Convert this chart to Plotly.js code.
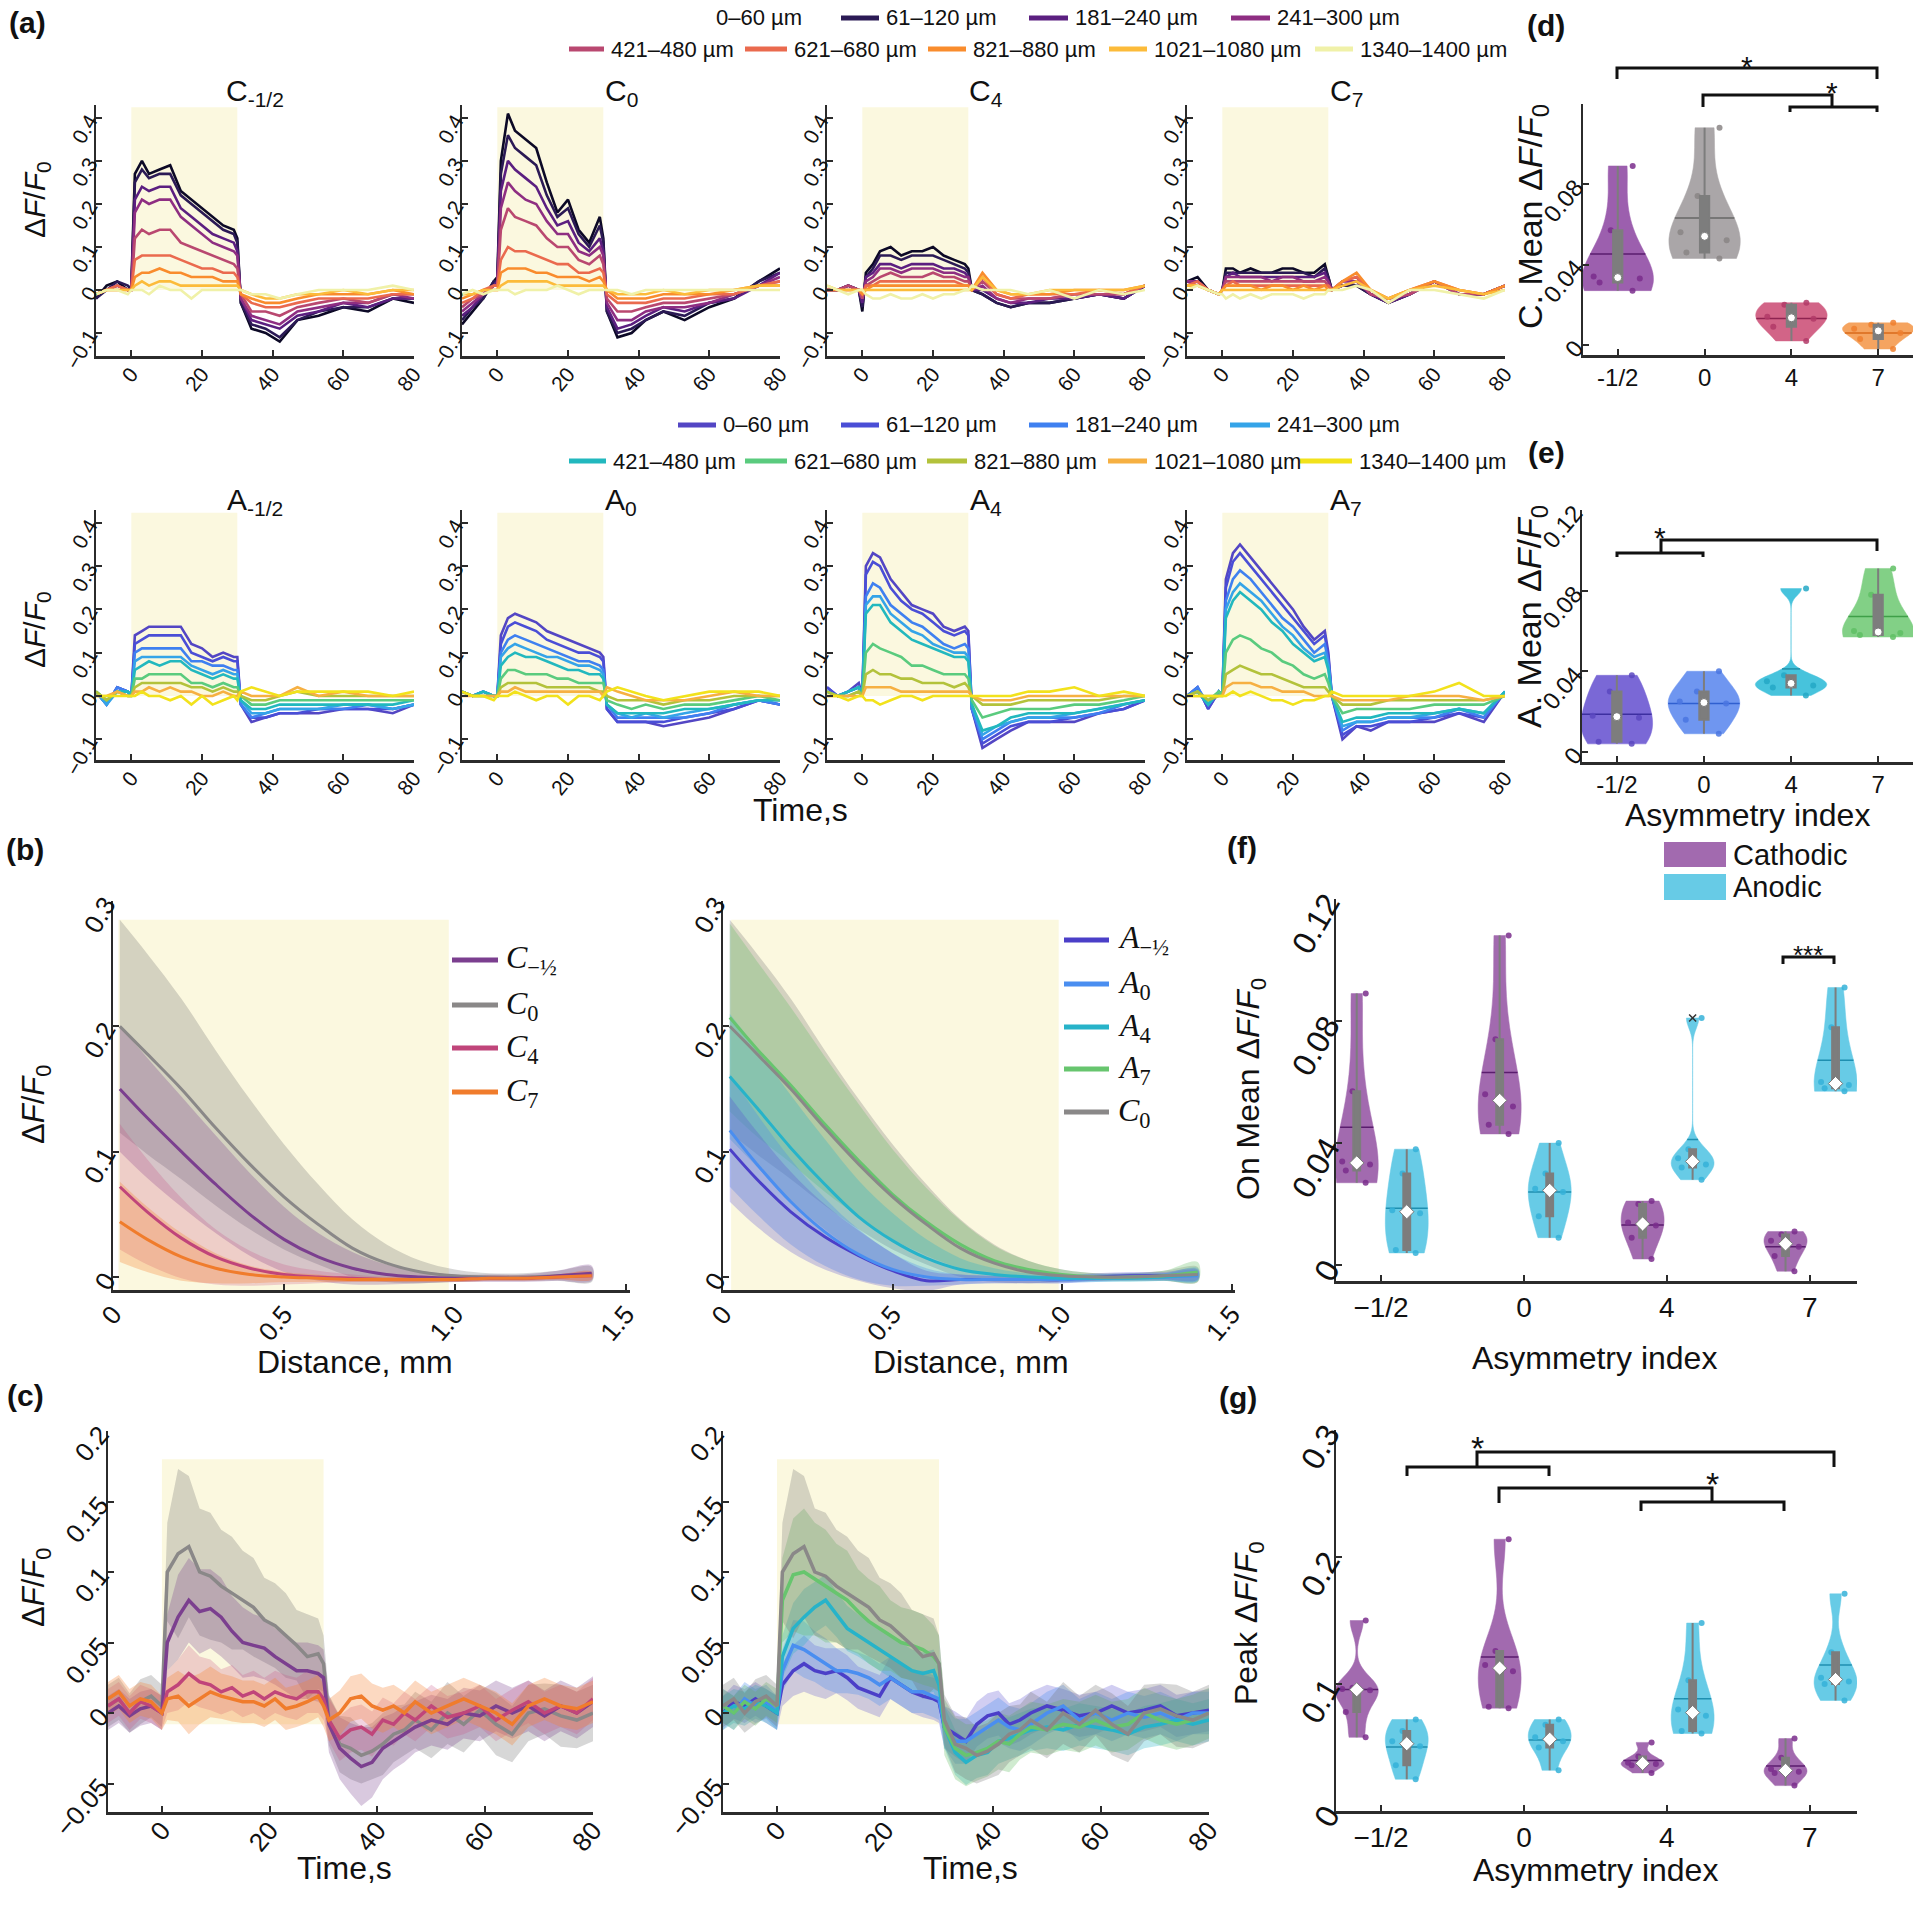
<!DOCTYPE html>
<html><head><meta charset="utf-8">
<script src="https://cdn.plot.ly/plotly-3.0.1.min.js"></script>
<style>html,body{margin:0;padding:0;background:#fff}#chart{width:1920px;height:1911px}</style>
</head><body><div id="chart"></div>
<script>
// ================= DATA =================
const distLabels = ['0–60 µm','61–120 µm','181–240 µm','241–300 µm','421–480 µm','621–680 µm','821–880 µm','1021–1080 µm','1340–1400 µm'];
const timeA = [-10,-7,-4,-1,0,1,3,5,8,11,14,17,20,23,26,29,30,31,34,38,42,47,53,60,67,74,80];

const cHalf = [
[-.02,.01,.02,.00,.01,.27,.30,.27,.28,.29,.23,.21,.19,.17,.15,.14,.12,-.03,-.09,-.10,-.12,-.07,-.06,-.04,-.05,-.02,-.03],
[-.02,.00,.02,.01,.00,.25,.28,.26,.27,.27,.22,.20,.18,.16,.14,.13,.11,-.03,-.08,-.09,-.11,-.07,-.05,-.04,-.04,-.02,-.02],
[-.01,.00,.01,.00,.00,.21,.24,.23,.24,.24,.19,.17,.15,.13,.12,.11,.09,-.02,-.07,-.08,-.09,-.06,-.05,-.03,-.04,-.02,-.02],
[-.01,.00,.01,.00,.00,.18,.21,.20,.21,.21,.17,.15,.13,.11,.10,.09,.08,-.02,-.06,-.07,-.08,-.05,-.04,-.03,-.03,-.01,-.02],
[-.01,.00,.01,.00,.00,.12,.14,.13,.14,.14,.11,.10,.09,.08,.07,.06,.05,-.01,-.05,-.05,-.06,-.04,-.03,-.02,-.03,-.01,-.01],
[-.01,.00,.01,.00,.00,.07,.08,.08,.08,.08,.07,.06,.05,.05,.04,.04,.03,-.01,-.03,-.04,-.04,-.03,-.02,-.02,-.02,-.01,-.01],
[-.01,.00,.00,.00,.00,.03,.04,.04,.05,.04,.04,.03,.03,.03,.02,.02,.02,-.01,-.02,-.03,-.03,-.02,-.01,-.01,-.01,.00,-.01],
[-.01,.00,.00,.00,.00,.01,.02,.01,.02,.02,.01,.01,.01,.01,.01,.01,.01,.00,-.01,-.02,-.02,-.01,-.01,.00,-.01,.00,.00],
[-.01,.00,.00,-.01,.00,.00,.00,-.01,.01,.00,.00,-.02,.00,.00,.00,.00,.00,.00,-.01,-.01,-.02,-.01,.00,.00,.00,.01,.00]];
const cZero = [
[-.08,-.05,-.02,.02,.03,.30,.41,.37,.35,.33,.25,.18,.21,.14,.11,.17,.12,-.05,-.11,-.10,-.07,-.05,-.07,-.04,-.02,.02,.05],
[-.07,-.04,-.02,.02,.02,.27,.36,.33,.31,.29,.22,.17,.19,.13,.10,.15,.11,-.05,-.10,-.09,-.07,-.05,-.06,-.03,-.02,.02,.04],
[-.06,-.04,-.01,.01,.02,.23,.30,.28,.26,.24,.19,.15,.16,.11,.09,.12,.09,-.04,-.09,-.08,-.06,-.04,-.05,-.03,-.02,.01,.04],
[-.05,-.03,-.01,.01,.01,.19,.25,.23,.21,.20,.16,.13,.13,.09,.08,.10,.08,-.03,-.07,-.07,-.05,-.04,-.04,-.03,-.01,.01,.03],
[-.04,-.02,-.01,.01,.01,.14,.19,.17,.16,.15,.12,.10,.10,.07,.06,.08,.06,-.02,-.05,-.05,-.04,-.03,-.03,-.02,-.01,.01,.02],
[-.03,-.02,.00,.01,.01,.07,.10,.09,.09,.08,.07,.06,.06,.04,.04,.05,.04,-.01,-.03,-.03,-.03,-.02,-.02,-.01,-.01,.01,.02],
[-.02,-.01,.00,.00,.00,.04,.05,.05,.05,.04,.04,.03,.03,.03,.02,.03,.02,.00,-.02,-.02,-.02,-.01,-.01,-.01,.00,.01,.01],
[-.01,-.01,.00,.00,.00,.01,.02,.02,.02,.02,.02,.01,.01,.01,.01,.01,.01,.00,-.01,-.01,-.01,.00,-.01,.00,.00,.01,.01],
[-.01,.00,-.01,.00,.00,.00,.00,-.01,.00,.00,.00,.01,.00,-.01,.00,.00,.00,.00,.00,-.01,.00,.00,.00,.00,.00,.00,.00]];
const cFour = [
[.00,.00,.01,.00,-.05,.04,.06,.09,.10,.08,.09,.09,.10,.08,.07,.06,.05,.00,-.01,-.03,-.04,-.03,-.03,-.02,-.01,-.02,.01],
[.00,.00,.01,.00,-.04,.03,.05,.08,.08,.07,.08,.08,.08,.07,.06,.05,.04,.00,-.01,-.03,-.04,-.03,-.03,-.02,-.01,-.02,.01],
[.00,.00,.01,.00,-.03,.03,.04,.06,.06,.05,.06,.06,.06,.05,.05,.04,.03,.00,.00,-.02,-.03,-.03,-.02,-.02,-.01,-.02,.01],
[.00,.00,.01,.00,-.02,.02,.03,.05,.05,.04,.05,.05,.05,.04,.04,.03,.03,.00,.01,-.02,-.03,-.02,-.02,-.01,-.01,-.01,.01],
[.00,.00,.01,.00,-.02,.01,.02,.03,.04,.03,.03,.03,.04,.03,.03,.02,.02,.00,.02,-.01,-.02,-.02,-.02,-.01,-.01,-.01,.01],
[.00,.00,.00,.00,-.01,.01,.01,.02,.02,.02,.02,.02,.02,.02,.02,.01,.01,.00,.03,-.01,-.02,-.01,-.01,-.01,.00,-.01,.01],
[.00,.00,.00,.00,-.01,.00,.01,.01,.01,.01,.01,.01,.01,.01,.01,.01,.01,.00,.04,.00,-.01,-.01,-.01,.00,.00,.00,.01],
[.01,.00,.00,.00,.00,.00,.00,.00,.00,.00,.00,.00,.00,.00,.00,.00,.00,.00,.03,.00,-.01,-.01,.00,.00,.00,.00,.01],
[.01,.00,-.01,.00,.00,-.01,-.02,-.02,-.01,-.02,-.02,-.01,-.02,-.01,-.01,.00,.00,.01,.00,.00,.00,-.01,.00,-.02,.00,-.01,.00]];
const cSeven = [
[.02,.03,.00,-.01,.00,.05,.05,.04,.05,.04,.04,.05,.05,.04,.04,.06,.03,.00,.01,.01,-.01,-.03,-.01,.02,-.01,-.01,.01],
[.02,.02,.00,-.01,.00,.04,.04,.04,.04,.04,.04,.04,.04,.04,.03,.05,.03,.00,.01,.01,-.01,-.03,-.01,.02,-.01,-.01,.01],
[.02,.02,.00,-.01,.00,.03,.04,.03,.03,.03,.03,.03,.03,.03,.03,.04,.02,.00,.01,.02,-.01,-.03,-.01,.02,-.01,-.01,.01],
[.02,.02,.00,-.01,.00,.03,.03,.03,.03,.03,.02,.03,.03,.02,.02,.03,.02,.00,.02,.02,-.01,-.02,-.01,.02,-.01,-.01,.01],
[.01,.02,.00,-.01,.00,.02,.02,.02,.02,.02,.02,.02,.02,.02,.02,.02,.01,.00,.02,.03,-.01,-.02,-.01,.02,-.01,-.01,.01],
[.01,.02,.00,-.01,.00,.01,.02,.01,.01,.01,.01,.01,.01,.01,.01,.01,.01,.00,.02,.03,.00,-.02,.00,.02,.00,-.01,.01],
[.01,.01,.00,-.01,.00,.01,.01,.01,.01,.00,.01,.01,.00,.01,.00,.01,.00,.00,.02,.04,.00,-.02,.00,.02,.00,-.01,.01],
[.01,.01,.00,-.01,.00,.00,.00,.00,.00,.00,.00,.00,.00,.00,.00,.00,.00,.00,.01,.02,.00,-.02,.00,.01,.00,-.01,.00],
[.00,.01,.00,-.01,-.01,-.02,-.01,-.02,-.01,-.02,-.01,-.01,-.01,-.02,-.01,-.01,.00,.00,.00,.01,.00,-.03,.00,.00,-.01,-.02,.00]];
const aHalf = [
[.01,-.02,.02,.01,.00,.14,.15,.16,.16,.16,.16,.12,.11,.09,.10,.09,.09,-.02,-.06,-.05,-.04,-.04,-.04,-.03,-.03,-.04,-.02],
[.01,-.02,.02,.01,.00,.12,.13,.14,.14,.14,.14,.10,.09,.08,.09,.08,.08,-.02,-.05,-.05,-.04,-.04,-.03,-.03,-.03,-.03,-.02],
[.01,-.02,.02,.01,.00,.10,.11,.11,.11,.11,.11,.08,.08,.07,.07,.06,.06,-.02,-.05,-.04,-.03,-.03,-.03,-.03,-.02,-.03,-.02],
[.01,-.02,.01,.01,.00,.08,.09,.09,.09,.09,.09,.07,.06,.05,.06,.05,.05,-.01,-.04,-.04,-.03,-.03,-.03,-.02,-.02,-.03,-.02],
[.01,-.01,.01,.01,.00,.06,.07,.08,.07,.08,.08,.06,.05,.04,.05,.04,.04,-.01,-.03,-.03,-.02,-.02,-.02,-.02,-.02,-.02,-.01],
[.01,-.01,.01,.00,.00,.04,.04,.05,.05,.05,.05,.03,.03,.02,.03,.02,.02,.00,-.02,-.02,-.01,-.01,-.01,-.01,-.01,-.01,-.01],
[.01,-.01,.01,.00,.00,.02,.03,.03,.03,.03,.03,.02,.02,.01,.02,.01,.01,.00,-.01,-.01,.00,.01,.00,.00,.00,.00,.00],
[.00,.00,.01,.00,.00,.01,.01,.02,.01,.02,.01,.01,.00,.00,.01,.00,.00,.01,.00,.00,.00,.02,.00,.01,.00,.00,.00],
[.00,.00,.00,.00,.00,.00,.01,.00,.00,-.01,.00,-.02,.00,-.02,-.01,.00,-.01,.01,.02,.01,.00,.01,.01,.01,.01,.00,.01]];
const aZero = [
[.01,.00,.01,.00,.00,.14,.18,.19,.18,.17,.15,.14,.13,.12,.11,.10,.09,-.03,-.06,-.06,-.06,-.07,-.06,-.05,-.03,-.01,-.02],
[.01,.00,.01,.00,.00,.12,.16,.17,.16,.15,.13,.12,.11,.10,.10,.09,.08,-.03,-.06,-.06,-.06,-.06,-.05,-.04,-.03,-.01,-.02],
[.01,.00,.01,.00,.00,.10,.13,.14,.13,.12,.11,.10,.09,.08,.08,.07,.06,-.02,-.05,-.05,-.05,-.05,-.05,-.04,-.02,-.01,-.02],
[.01,.00,.01,.00,.00,.09,.11,.12,.11,.10,.09,.09,.08,.07,.07,.06,.05,-.02,-.04,-.05,-.04,-.05,-.04,-.03,-.02,-.01,-.01],
[.01,.00,.01,.00,.00,.07,.09,.10,.09,.09,.08,.07,.06,.06,.05,.05,.04,-.02,-.04,-.04,-.04,-.04,-.03,-.03,-.02,-.01,-.01],
[.01,.00,.00,.00,.00,.04,.06,.06,.05,.05,.05,.04,.04,.03,.03,.03,.03,-.01,-.02,-.03,-.02,-.03,-.02,-.02,-.01,.00,-.01],
[.01,.00,.00,.00,.00,.02,.03,.03,.03,.03,.02,.02,.02,.02,.02,.01,.01,.00,-.01,-.01,-.01,-.02,-.01,-.01,.00,.00,.00],
[.00,.00,.00,.00,.00,.01,.01,.02,.01,.01,.01,.01,.01,.01,.01,.01,.00,.02,.01,.00,-.01,-.01,-.01,.00,.01,.00,.00],
[.01,.00,.00,-.01,.00,.00,.00,.01,.00,-.01,.00,.00,-.02,.00,.00,-.01,.00,.01,.02,.01,.00,-.01,.00,.01,.01,.01,.00]];
const aFour = [
[.02,.00,.01,.03,.00,.30,.33,.32,.27,.24,.21,.20,.19,.16,.15,.16,.15,-.03,-.12,-.10,-.08,-.06,-.06,-.06,-.04,-.03,-.01],
[.02,.00,.01,.02,.00,.28,.31,.30,.25,.22,.20,.19,.17,.15,.14,.15,.14,-.03,-.11,-.09,-.07,-.06,-.06,-.05,-.04,-.03,-.01],
[.01,.00,.01,.02,.00,.23,.26,.25,.21,.19,.17,.16,.14,.12,.11,.12,.11,-.03,-.10,-.08,-.06,-.05,-.05,-.05,-.04,-.02,-.01],
[.01,.00,.01,.02,.00,.21,.23,.23,.19,.17,.15,.14,.12,.11,.10,.10,.09,-.02,-.09,-.07,-.06,-.05,-.05,-.04,-.03,-.02,-.01],
[.01,.00,.01,.02,.00,.19,.21,.21,.17,.15,.13,.12,.11,.10,.09,.09,.08,-.02,-.08,-.07,-.05,-.04,-.04,-.04,-.03,-.02,-.01],
[.01,.00,.00,.01,.00,.10,.12,.11,.10,.09,.07,.07,.06,.05,.05,.05,.04,-.01,-.05,-.04,-.03,-.03,-.03,-.02,-.02,-.01,.00],
[.01,.00,.00,.01,.00,.05,.06,.05,.05,.04,.04,.03,.03,.03,.02,.03,.02,.00,-.02,-.02,-.02,-.01,-.01,-.01,-.01,.00,.00],
[.00,.00,.00,.00,.00,.02,.02,.02,.02,.01,.01,.01,.01,.01,.01,.01,.01,.00,-.01,-.01,-.01,.00,.00,.00,.00,.00,.00],
[.00,.00,-.01,.00,.00,-.01,-.01,-.02,-.01,.00,.00,-.01,.00,.00,.00,.00,.00,.00,.00,.00,.00,.01,.01,.02,.00,.01,.00]];
const aSeven = [
[.00,.02,-.03,.01,.00,.27,.33,.35,.32,.29,.26,.23,.20,.16,.13,.15,.10,.00,-.10,-.07,-.08,-.06,-.06,-.06,-.04,-.06,.01],
[.00,.02,-.03,.01,.00,.25,.31,.33,.30,.27,.24,.21,.18,.15,.12,.14,.09,.00,-.09,-.07,-.07,-.06,-.06,-.05,-.04,-.05,.01],
[.00,.02,-.02,.01,.00,.22,.27,.29,.27,.24,.21,.18,.16,.13,.10,.12,.08,.00,-.08,-.06,-.06,-.05,-.05,-.05,-.03,-.05,.01],
[.00,.01,-.02,.01,.00,.20,.24,.26,.24,.22,.19,.16,.14,.11,.09,.10,.07,.00,-.07,-.06,-.06,-.05,-.05,-.04,-.03,-.04,.01],
[.00,.01,-.02,.01,.00,.18,.22,.24,.22,.20,.17,.15,.12,.10,.08,.09,.06,.00,-.06,-.05,-.05,-.04,-.04,-.04,-.03,-.04,.01],
[.00,.01,-.01,.01,.00,.10,.13,.14,.13,.11,.10,.08,.07,.05,.04,.05,.03,.00,-.04,-.03,-.03,-.03,-.03,-.02,-.02,-.02,.00],
[.00,.01,-.01,.00,.00,.05,.06,.07,.06,.05,.05,.04,.03,.02,.02,.02,.01,.00,-.02,-.02,-.02,-.01,-.01,-.01,-.01,-.01,.00],
[.00,.00,.00,.00,.00,.02,.03,.03,.03,.02,.02,.01,.01,.01,.00,.00,.00,.00,-.01,-.01,-.01,-.01,.00,.00,.00,-.01,.00],
[.00,.00,.00,.00,.00,.00,.01,.00,.01,.00,-.01,-.01,-.02,-.01,-.01,.00,.00,.01,.00,.00,.00,.00,.00,.01,.03,.00,.00]];

// (b) spatial profiles
const distMm = [0.02,0.1,0.2,0.3,0.4,0.5,0.6,0.7,0.8,0.9,1.0,1.1,1.2,1.3,1.4];
const profCHalf = [0.150,0.127,0.100,0.074,0.050,0.030,0.016,0.007,0.002,0.000,-0.001,-0.001,-0.001,0.001,0.003];
const profC0    = [0.200,0.178,0.150,0.119,0.090,0.064,0.042,0.023,0.011,0.004,0.001,0.000,0.000,0.001,0.002];
const profC4    = [0.072,0.052,0.031,0.016,0.007,0.002,0.000,-0.001,-0.002,-0.002,-0.002,-0.001,-0.001,0.000,0.001];
const profC7    = [0.044,0.030,0.016,0.007,0.002,0.000,-0.001,-0.002,-0.002,-0.002,-0.002,-0.001,-0.001,0.000,0.001];
const profAHalf = [0.102,0.078,0.052,0.032,0.017,0.005,-0.003,-0.002,-0.002,-0.002,-0.002,0.000,0.001,0.001,0.002];
const profA0    = [0.117,0.090,0.060,0.036,0.018,0.006,0.000,-0.002,-0.002,-0.002,-0.002,-0.001,0.000,0.000,0.001];
const profA4    = [0.160,0.135,0.103,0.074,0.048,0.029,0.015,0.006,0.002,0.000,-0.001,-0.001,-0.001,0.000,0.002];
const profA7    = [0.207,0.182,0.153,0.122,0.093,0.066,0.044,0.026,0.013,0.006,0.002,0.000,0.000,0.001,0.004];
const sdCHalf = [0.050,0.048,0.044,0.039,0.033,0.026,0.019,0.013,0.008,0.005,0.003,0.003,0.003,0.004,0.006];
const sdC0    = [0.085,0.080,0.072,0.062,0.052,0.042,0.032,0.023,0.015,0.009,0.005,0.003,0.003,0.004,0.006];
const sdC4    = [0.050,0.042,0.032,0.022,0.014,0.008,0.005,0.003,0.002,0.002,0.002,0.002,0.002,0.002,0.003];
const sdC7    = [0.032,0.026,0.019,0.012,0.007,0.004,0.003,0.002,0.002,0.002,0.002,0.002,0.002,0.002,0.003];
const sdAHalf = [0.042,0.038,0.032,0.026,0.020,0.014,0.008,0.004,0.003,0.003,0.003,0.003,0.003,0.003,0.004];
const sdA0    = [0.045,0.040,0.034,0.027,0.020,0.013,0.007,0.004,0.003,0.003,0.003,0.003,0.003,0.003,0.004];
const sdA4    = [0.050,0.047,0.042,0.036,0.029,0.022,0.015,0.009,0.005,0.003,0.003,0.003,0.003,0.003,0.005];
const sdA7    = [0.075,0.070,0.062,0.054,0.045,0.036,0.027,0.019,0.012,0.007,0.004,0.003,0.003,0.004,0.008];

// (c) averaged time courses
const timeC = [-10,-8,-6,-4,-2,0,1,3,5,7,9,11,13,15,17,19,21,23,25,27,29,30,31,33,35,37,39,41,43,45,47,50,53,56,59,62,65,68,71,74,77,80];
const tcC0    = [.005,.01,.0,.008,.012,.005,.10,.113,.118,.10,.097,.09,.085,.08,.075,.066,.062,.055,.048,.04,.042,.035,-.005,-.022,-.025,-.03,-.027,-.022,-.015,-.012,-.005,-.012,.0,-.008,.002,-.008,-.015,.0,.003,-.002,-.005,.0];
const tcCHalf = [.0,.005,-.002,.003,.005,.0,.05,.068,.08,.072,.074,.068,.058,.05,.048,.046,.04,.035,.03,.03,.028,.025,-.008,-.025,-.032,-.038,-.035,-.025,-.02,-.015,-.01,-.005,-.008,.0,-.002,.005,.0,.005,-.002,.005,.0,.008];
const tcC4    = [.005,.01,.0,.008,.005,.0,.015,.02,.028,.022,.02,.015,.018,.012,.015,.01,.015,.012,.01,.015,.015,.01,-.005,-.018,-.012,-.01,-.015,-.005,-.008,.0,-.005,.005,-.003,.0,.005,-.005,.002,.008,.0,.005,.0,.01];
const tcC7    = [.01,.015,.005,.01,.008,.0,.01,.012,.005,.01,.015,.012,.01,.008,.008,.005,.01,.003,.005,.008,.012,.005,-.005,.0,.01,.012,.005,.002,.005,.0,.008,.0,.005,.01,.005,.0,-.008,.005,.01,.005,.003,.008];
const tcA7    = [.005,.0,.008,.003,.01,.005,.08,.098,.1,.095,.09,.085,.08,.072,.065,.06,.055,.05,.048,.045,.04,.035,-.01,-.025,-.03,-.028,-.025,-.02,-.022,-.015,-.01,-.012,-.008,-.01,-.005,-.01,-.008,.0,-.005,-.008,-.005,.0];
const tcA4    = [.0,.005,.003,.008,.005,.0,.04,.06,.068,.075,.08,.07,.06,.055,.05,.045,.04,.035,.03,.028,.03,.02,-.01,-.028,-.035,-.03,-.028,-.02,-.018,-.015,-.012,-.01,-.012,-.008,-.01,-.012,-.015,-.01,-.008,-.005,-.008,-.005];
const tcA0    = [.005,.0,.01,.005,.008,.0,.03,.048,.045,.04,.035,.03,.03,.028,.025,.02,.025,.02,.015,.015,.012,.01,-.01,-.02,-.02,-.015,-.01,-.005,-.01,-.012,-.008,.0,.005,-.005,.0,-.005,.0,-.003,.0,-.005,.0,.0];
const tcAHalf = [.0,.008,.005,.01,.005,.0,.02,.03,.035,.03,.028,.03,.025,.018,.015,.012,.025,.02,.015,.012,.01,.008,-.01,-.015,-.02,-.008,-.002,.0,-.008,-.005,.0,.005,.002,-.002,.0,.005,.0,.002,.005,-.002,.0,.002];
const tsdC0    = [.015,.015,.014,.016,.015,.015,.035,.06,.05,.045,.045,.04,.04,.035,.035,.03,.03,.03,.025,.03,.025,.02,.018,.02,.022,.02,.02,.022,.02,.018,.02,.02,.022,.02,.018,.022,.02,.02,.018,.022,.02,.02];
const tsdCHalf = [.012,.012,.012,.012,.012,.012,.02,.03,.03,.03,.028,.028,.025,.025,.022,.022,.02,.02,.02,.02,.02,.02,.02,.022,.025,.028,.025,.022,.02,.02,.018,.018,.018,.018,.018,.018,.018,.018,.018,.018,.018,.018];
const tsdSmall = [.012,.012,.012,.012,.012,.012,.015,.018,.02,.018,.018,.016,.016,.015,.015,.015,.015,.015,.015,.015,.015,.015,.015,.016,.016,.016,.016,.016,.015,.015,.015,.015,.015,.015,.015,.015,.015,.015,.015,.015,.015,.015];
const tsdA7    = [.012,.012,.012,.012,.012,.012,.03,.04,.045,.04,.04,.035,.035,.03,.03,.03,.025,.025,.025,.025,.022,.02,.02,.022,.022,.02,.02,.02,.02,.018,.018,.018,.018,.018,.018,.018,.018,.018,.018,.018,.018,.018];

// (d)-(g) per-animal values, order: -1/2, 0, 4, 7
const asymLabels = ['-1/2','0','4','7'];
const meanC = [[0.089,0.057,0.034,0.033,0.031,0.027],[0.108,0.074,0.056,0.052,0.046,0.043],[0.021,0.020,0.014,0.013,0.009,0.002],[0.011,0.010,0.008,0.006,0.003,-0.002]];
const meanA = [[0.038,0.030,0.018,0.017,0.005,0.004],[0.040,0.030,0.025,0.024,0.016,0.009],[0.081,0.038,0.035,0.033,0.032,0.028],[0.091,0.078,0.060,0.059,0.058,0.057]];
const peakC = [[0.150,0.097,0.096,0.095,0.078,0.058],[0.214,0.126,0.115,0.110,0.082,0.081],[0.054,0.043,0.038,0.037,0.036,0.030],[0.057,0.042,0.033,0.031,0.030,0.020]];
const peakA = [[0.072,0.063,0.055,0.051,0.036,0.025],[0.072,0.068,0.058,0.055,0.050,0.032],[0.148,0.103,0.080,0.075,0.063,0.061],[0.171,0.125,0.105,0.102,0.100,0.087]];

// ================= STYLE / LAYOUT =================
const W=1920, H=1911;
const FONT='Liberation Sans, Arial, sans-serif';
const SERIF='Liberation Serif, Times New Roman, serif';
const cColors=['#0c0926','#2b1a55','#5b1f80','#8e2e82','#b94870','#ea6a4e','#f98c2d','#fcbb3a','#f0f1a8'];
const aColors=['#5346c4','#4a4ed6','#3f80f0','#35a4e8','#22b8be','#5acb7e','#b3c23b','#f6b042','#f2e21c'];
const SHADE='#fbf8df';
const layout={width:W,height:H,margin:{l:0,r:0,t:0,b:0},paper_bgcolor:'#fff',plot_bgcolor:'rgba(0,0,0,0)',
  showlegend:false,violinmode:'overlay',font:{family:FONT,color:'#111'},shapes:[],annotations:[]};
const traces=[];
function baseAx(){return {showline:true,linecolor:'#2b2b2b',linewidth:2.5,ticks:'inside',ticklen:6,tickwidth:2,tickcolor:'#2b2b2b',
  showgrid:false,zeroline:false,fixedrange:true,tickfont:{family:FONT,size:20,color:'#111'}};}
function setAxes(n,xd,yd,xr,yr,xo,yo){
  const s=n===1?'':n;
  layout['xaxis'+s]=Object.assign(baseAx(),{domain:[xd[0]/W,xd[1]/W],range:xr,anchor:'y'+s},xo||{});
  layout['yaxis'+s]=Object.assign(baseAx(),{domain:[1-yd[1]/H,1-yd[0]/H],range:yr,anchor:'x'+s},yo||{});
}
function ref(n){return n===1?'':String(n);}
function ann(text,x,y,size,o){layout.annotations.push(Object.assign({text:text,x:x/W,y:1-y/H,xref:'paper',yref:'paper',showarrow:false,
  font:{family:FONT,size:size,color:'#111'},xanchor:'center',yanchor:'middle'},o||{}));}
function pline(pts,color,width){layout.shapes.push({type:'path',xref:'paper',yref:'paper',
  path:'M'+pts.map(p=>(p[0]/W)+','+(1-p[1]/H)).join('L'),line:{color:color,width:width}});}
function shade(n,x0,x1,y0,y1){const s=ref(n);layout.shapes.push({type:'rect',xref:'x'+s,yref:'y'+s,x0:x0,x1:x1,y0:y0,y1:y1,
  fillcolor:SHADE,line:{width:0},layer:'below'});}
const DF='Δ<i>F</i>/<i>F</i><sub>0</sub>';

// ----- (a) -----
const aXticks={tickvals:[0,20,40,60,80],tickangle:-50,ticklabelstandoff:-5,tickfont:{family:FONT,size:21,color:'#111'}};
const aYticks={tickvals:[-0.1,0,0.1,0.2,0.3,0.4],ticktext:['−0.1','0','0.1','0.2','0.3','0.4'],tickangle:-60,tickfont:{family:FONT,size:21,color:'#111'}};
const colX=[[96,414],[462,780],[827,1145],[1187,1505]];
const cSets=[cHalf,cZero,cFour,cSeven], aSets=[aHalf,aZero,aFour,aSeven];
const cTitles=['C<sub>-1/2</sub>','C<sub>0</sub>','C<sub>4</sub>','C<sub>7</sub>'];
const aTitles=['A<sub>-1/2</sub>','A<sub>0</sub>','A<sub>4</sub>','A<sub>7</sub>'];
for(let k=0;k<4;k++){
  const n1=k+1, n2=k+5;
  setAxes(n1,colX[k],[105,356],[-10,80],[-0.1535,0.430],aXticks,aYticks);
  setAxes(n2,colX[k],[510,760],[-10,80],[-0.148,0.4296],aXticks,aYticks);
  shade(n1,0,30,0,0.425); shade(n2,0,30,0,0.423);
  for(let i=0;i<9;i++){
    traces.push({type:'scatter',mode:'lines',x:timeA,y:cSets[k][i],xaxis:'x'+ref(n1),yaxis:'y'+ref(n1),line:{color:cColors[i],width:2.6},hoverinfo:'skip'});
    traces.push({type:'scatter',mode:'lines',x:timeA,y:aSets[k][i],xaxis:'x'+ref(n2),yaxis:'y'+ref(n2),line:{color:aColors[i],width:2.6},hoverinfo:'skip'});
  }
  const cx=(colX[k][0]+colX[k][1])/2;
  ann(cTitles[k],cx,93,30); ann(aTitles[k],cx,501,30);
}
// (a) legends
const cLeg=[[null,714,18],[841,884,18],[1029,1073,18],[1231,1275,18],[569,609,49],[745,792,49],[928,971,49],[1109,1152,49],[1315,1358,49]];
const aLeg=[[678,721,425],[841,884,425],[1029,1073,425],[1230,1275,425],[569,611,461],[745,792,461],[927,972,461],[1108,1152,461],[1300,1357,461]];
for(let i=0;i<9;i++){
  const c=cLeg[i]; if(c[0]!==null) pline([[c[0],c[2]],[c[1]-5,c[2]]],cColors[i],5);
  ann(distLabels[i],c[1],c[2],22,{xanchor:'left'});
  const a=aLeg[i]; pline([[a[0],a[2]],[a[1]-5,a[2]]],aColors[i],5);
  ann(distLabels[i],a[1],a[2],22,{xanchor:'left'});
}
ann('<b>(a)</b>',27,22,30);
ann(DF,37,200,30,{textangle:-90});
ann(DF,37,630,30,{textangle:-90});
ann('Time,s',800,810,32);

// ----- (b) -----
const bX={tickvals:[0,0.5,1,1.5],ticktext:['0','0.5','1.0','1.5'],tickangle:-50,ticklabelstandoff:-4,tickfont:{family:FONT,size:26,color:'#111'}};
const bY={tickvals:[0,0.1,0.2,0.3],ticktext:['0','0.1','0.2','0.3'],tickangle:-60,tickfont:{family:FONT,size:26,color:'#111'}};
setAxes(11,[113,630],[901,1290],[0,1.512],[-0.0104,0.3],bX,bY);
setAxes(12,[723,1235],[901,1290],[0,1.51],[-0.0104,0.3],bX,bY);
shade(11,0.016,0.982,-0.0104,0.285); shade(12,0.024,0.99,-0.0104,0.285);
function band(n,x,m,sd,color,shape){
  const up=m.map((v,i)=>v+sd[i]), lo=m.map((v,i)=>v-sd[i]);
  traces.push({type:'scatter',mode:'lines',x:x.concat(x.slice().reverse()),y:up.concat(lo.reverse()),fill:'toself',fillcolor:color,
    line:{width:0,shape:shape||'linear'},xaxis:'x'+ref(n),yaxis:'y'+ref(n),hoverinfo:'skip'});
}
function mline(n,x,m,color,w,shape){traces.push({type:'scatter',mode:'lines',x:x,y:m,line:{color:color,width:w||3,shape:shape||'linear'},xaxis:'x'+ref(n),yaxis:'y'+ref(n),hoverinfo:'skip'});}
const col={CHalf:'#7b3f8f',C0:'#8a8888',C4:'#c0457a',C7:'#f07c2c',AHalf:'#4b3fc8',A0:'#4a8ef0',A4:'#27b3c9',A7:'#67c56e'};
const bandCol={CHalf:'rgba(120,60,140,0.28)',C0:'rgba(110,110,110,0.28)',C4:'rgba(200,80,130,0.25)',C7:'rgba(245,130,50,0.30)',
  AHalf:'rgba(90,80,210,0.28)',A0:'rgba(70,140,240,0.30)',A4:'rgba(40,180,200,0.30)',A7:'rgba(100,190,100,0.30)'};
const SP='spline';
band(11,distMm,profC0,sdC0,bandCol.C0,SP); band(11,distMm,profCHalf,sdCHalf,bandCol.CHalf,SP);
band(11,distMm,profC4,sdC4,bandCol.C4,SP); band(11,distMm,profC7,sdC7,bandCol.C7,SP);
mline(11,distMm,profC0,col.C0,3,SP); mline(11,distMm,profCHalf,col.CHalf,3,SP); mline(11,distMm,profC4,col.C4,3,SP); mline(11,distMm,profC7,col.C7,3,SP);
band(12,distMm,profC0,sdC0,bandCol.C0,SP); band(12,distMm,profA7,sdA7,bandCol.A7,SP); band(12,distMm,profA4,sdA4,bandCol.A4,SP);
band(12,distMm,profA0,sdA0,bandCol.A0,SP); band(12,distMm,profAHalf,sdAHalf,bandCol.AHalf,SP);
mline(12,distMm,profAHalf,col.AHalf,3,SP); mline(12,distMm,profA0,col.A0,3,SP); mline(12,distMm,profA4,col.A4,3,SP); mline(12,distMm,profA7,col.A7,3,SP); mline(12,distMm,profC0,col.C0,3,SP);
const bLegL=[['<i>C</i><sub>−½</sub>',col.CHalf,960],['<i>C</i><sub>0</sub>',col.C0,1005],['<i>C</i><sub>4</sub>',col.C4,1048],['<i>C</i><sub>7</sub>',col.C7,1092]];
bLegL.forEach(e=>{pline([[452,e[2]],[498,e[2]]],e[1],5);ann(e[0],504,e[2],32,{xanchor:'left',font:{family:SERIF,size:32,color:'#111'}});});
const bLegR=[['<i>A</i><sub>−½</sub>',col.AHalf,940],['<i>A</i><sub>0</sub>',col.A0,984],['<i>A</i><sub>4</sub>',col.A4,1027],['<i>A</i><sub>7</sub>',col.A7,1069],['<i>C</i><sub>0</sub>',col.C0,1112]];
bLegR.forEach(e=>{pline([[1064,e[2]],[1109,e[2]]],e[1],5);ann(e[0],1116,e[2],32,{xanchor:'left',font:{family:SERIF,size:32,color:'#111'}});});
ann('<b>(b)</b>',25,849,30);
ann(DF,36,1105,31,{textangle:-90});
ann('Distance, mm',355,1362,32); ann('Distance, mm',971,1362,32);

// ----- (c) -----
const cX={tickvals:[0,20,40,60,80],tickangle:-50,ticklabelstandoff:-10,tickfont:{family:FONT,size:26,color:'#111'}};
const cY={tickvals:[-0.05,0,0.05,0.1,0.15,0.2],ticktext:['−0.05','0','0.05','0.1','0.15','0.2'],tickangle:-50,tickfont:{family:FONT,size:26,color:'#111'}};
setAxes(14,[108,593],[1431,1812],[-10,80],[-0.0702,0.2],cX,cY);
setAxes(15,[723,1209],[1431,1812],[-10,80],[-0.0702,0.2],cX,cY);
shade(14,0,30,-0.008,0.18); shade(15,0,30,-0.008,0.18);
band(14,timeC,tcC0,tsdC0,bandCol.C0); band(14,timeC,tcCHalf,tsdCHalf,bandCol.CHalf);
band(14,timeC,tcC4,tsdSmall,bandCol.C4); band(14,timeC,tcC7,tsdSmall,bandCol.C7);
mline(14,timeC,tcC0,col.C0,3.5); mline(14,timeC,tcCHalf,col.CHalf,3.5); mline(14,timeC,tcC4,col.C4,3.5); mline(14,timeC,tcC7,col.C7,3.5);
band(15,timeC,tcAHalf,tsdSmall,bandCol.AHalf); band(15,timeC,tcA0,tsdSmall,bandCol.A0);
band(15,timeC,tcA4,tsdSmall,bandCol.A4); band(15,timeC,tcA7,tsdA7,bandCol.A7); band(15,timeC,tcC0,tsdC0,bandCol.C0);
mline(15,timeC,tcAHalf,col.AHalf,3.5); mline(15,timeC,tcA0,col.A0,3.5); mline(15,timeC,tcA4,col.A4,3.5); mline(15,timeC,tcA7,col.A7,3.5); mline(15,timeC,tcC0,col.C0,3.5);
ann('<b>(c)</b>',25,1395,30);
ann(DF,36,1588,31,{textangle:-90});
ann('Time,s',344,1868,32); ann('Time,s',970,1868,32);

// ----- violins -----
function median(a){const s=[...a].sort((p,q)=>p-q);const n=s.length;return n%2?s[(n-1)/2]:(s[n/2-1]+s[n/2])/2;}
function violin(n,pos,vals,fill,ptc,ml,w,bwid){
  const s=ref(n);
  traces.push({type:'violin',xaxis:'x'+s,yaxis:'y'+s,x:vals.map(()=>pos),y:vals,width:w,spanmode:'hard',scalemode:'width',
    fillcolor:fill,line:{color:fill,width:0.5},points:'all',pointpos:0,jitter:0.8,marker:{size:6,color:ptc,opacity:0.85,line:{width:0}},
    box:{visible:false},meanline:{visible:true,color:ml,width:1.5},hoverinfo:'skip',showlegend:false});
  traces.push({type:'violin',xaxis:'x'+s,yaxis:'y'+s,x:vals.map(()=>pos),y:vals,width:w,spanmode:'hard',scalemode:'width',
    fillcolor:'rgba(0,0,0,0)',line:{color:'rgba(0,0,0,0)',width:0},points:false,
    box:{visible:true,width:bwid,fillcolor:'#7d7d7d',line:{color:'#7d7d7d',width:2}},meanline:{visible:false},hoverinfo:'skip',showlegend:false});
}
function medMarks(n,pos,sets,sym,size){
  const s=ref(n);
  traces.push({type:'scatter',mode:'markers',xaxis:'x'+s,yaxis:'y'+s,x:pos,y:sets.map(median),
    marker:{symbol:sym,size:size,color:'#fff',line:{color:'#777',width:1}},hoverinfo:'skip'});
}
const dX={tickvals:[1,2,3,4],ticktext:asymLabels,tickangle:0,tickfont:{family:FONT,size:24,color:'#111'}};
const dY={tickvals:[0,0.04,0.08,0.12],ticktext:['0','0.04','0.08','0.12'],tickangle:-50,tickfont:{family:FONT,size:24,color:'#111'}};
setAxes(9,[1583,1913],[104,355],[0.6,4.4],[-0.005,0.1198],dX,dY);
setAxes(10,[1582,1913],[510,762],[0.6,4.4],[-0.005,0.12],dX,dY);
const dFill=['#9c5fae','#aaa6a8','#d26487','#f5a460'], dPt=['#7a2d8c','#8a8585','#b23a67','#ee7f2e'], dMl=['#5a1d6e','#666','#8e2350','#d86a1a'];
const eFill=['#7a68d6','#6f96f0','#47c3dc','#82d086'], ePt=['#5a48c0','#4a76e0','#25a8c6','#5fbf64'], eMl=['#3d2fa0','#2f5fd0','#1f8fa8','#3f9f48'];
for(let k=0;k<4;k++){
  violin(9,k+1,meanC[k],dFill[k],dPt[k],dMl[k],0.82,0.13);
  violin(10,k+1,meanA[k],eFill[k],ePt[k],eMl[k],0.82,0.13);
}
medMarks(9,[1,2,3,4],meanC,'circle',8); medMarks(10,[1,2,3,4],meanA,'circle',8);
ann('<b>(d)</b>',1546,25,30); ann('<b>(e)</b>',1546,452,30);
ann('C. Mean '+DF,1532,217,34,{textangle:-90});
ann('A. Mean '+DF,1532,617,34,{textangle:-90});
ann('Asymmetry index',1747,815,32);
// brackets d
pline([[1617,79],[1617,68],[1877,68],[1877,79]],'#111',3); ann('*',1747,66,30);
pline([[1703,107],[1703,95],[1832,95],[1832,107]],'#111',3);
pline([[1790,112],[1790,107],[1877,107],[1877,112]],'#111',3); ann('*',1832,92,30);
// bracket e
pline([[1617,557],[1617,553],[1703,553],[1703,557]],'#111',3);
pline([[1661,553],[1661,540],[1877,540],[1877,551]],'#111',3); ann('*',1660,538,30);

// (f) and (g)
const fX={tickvals:[1,2,3,4],ticktext:['−1/2','0','4','7'],tickangle:0,tickfont:{family:FONT,size:28,color:'#111'}};
setAxes(13,[1336,1857],[899,1281],[0.685,4.33],[-0.0052,0.12],fX,{tickvals:[0,0.04,0.08,0.12],ticktext:['0','0.04','0.08','0.12'],tickangle:-60,tickfont:{family:FONT,size:32,color:'#111'}});
setAxes(16,[1336,1857],[1430,1811],[0.685,4.33],[0,0.3],fX,{tickvals:[0,0.1,0.2,0.3],ticktext:['0','0.1','0.2','0.3'],tickangle:-60,tickfont:{family:FONT,size:32,color:'#111'}});
const cathFill='#a26aaf', cathPt='#7a2d8c', cathMl='#5a1d6e', anoFill='#67cbe6', anoPt='#35b1d8', anoMl='#1f8fb0';
for(let k=0;k<4;k++){
  violin(13,k+1-0.17,meanC[k],cathFill,cathPt,cathMl,0.3,0.16);
  violin(13,k+1+0.18,meanA[k],anoFill,anoPt,anoMl,0.3,0.16);
  violin(16,k+1-0.17,peakC[k],cathFill,cathPt,cathMl,0.3,0.16);
  violin(16,k+1+0.18,peakA[k],anoFill,anoPt,anoMl,0.3,0.16);
}
medMarks(13,[0.83,1.83,2.83,3.83],meanC,'diamond',11); medMarks(13,[1.18,2.18,3.18,4.18],meanA,'diamond',11);
medMarks(16,[0.83,1.83,2.83,3.83],peakC,'diamond',11); medMarks(16,[1.18,2.18,3.18,4.18],peakA,'diamond',11);
traces.push({type:'scatter',mode:'markers',xaxis:'x13',yaxis:'y13',x:[3.18],y:[Math.max(...meanA[2])],marker:{symbol:'x-thin',size:7,line:{color:'#333',width:1.5}},hoverinfo:'skip'});
ann('<b>(f)</b>',1242,847,30); ann('<b>(g)</b>',1238,1397,30);
layout.shapes.push({type:'rect',xref:'paper',yref:'paper',x0:1664/W,x1:1726/W,y0:1-867/H,y1:1-842/H,fillcolor:cathFill,line:{width:0}});
layout.shapes.push({type:'rect',xref:'paper',yref:'paper',x0:1664/W,x1:1726/W,y0:1-900/H,y1:1-874/H,fillcolor:anoFill,line:{width:0}});
ann('Cathodic',1731,855,29,{xanchor:'left'}); ann('Anodic',1731,887,29,{xanchor:'left'});
ann('On Mean '+DF,1250,1089,32,{textangle:-90});
ann('Asymmetry index',1594,1358,32);
pline([[1783,964],[1783,957],[1834,957],[1834,964]],'#111',3); ann('***',1808,955,26);
ann('Peak '+DF,1248,1623,32,{textangle:-90});
ann('Asymmetry index',1595,1870,32);
pline([[1407,1476],[1407,1467],[1549,1467],[1549,1476]],'#111',3);
pline([[1477,1467],[1477,1452],[1834,1452],[1834,1467]],'#111',3); ann('*',1477,1448,34);
pline([[1499,1503],[1499,1488],[1712,1488],[1712,1502]],'#111',3);
pline([[1641,1511],[1641,1502],[1784,1502],[1784,1511]],'#111',3); ann('*',1712,1484,34);

Plotly.newPlot('chart',traces,layout,{staticPlot:true}).then(function(){
  document.querySelectorAll('.violinlayer path').forEach(function(p){
    if(p.style && p.style.strokeDasharray){ p.style.strokeDasharray='none'; }
    if(p.getAttribute('stroke-dasharray')){ p.removeAttribute('stroke-dasharray'); }
  });
});
</script></body></html>
